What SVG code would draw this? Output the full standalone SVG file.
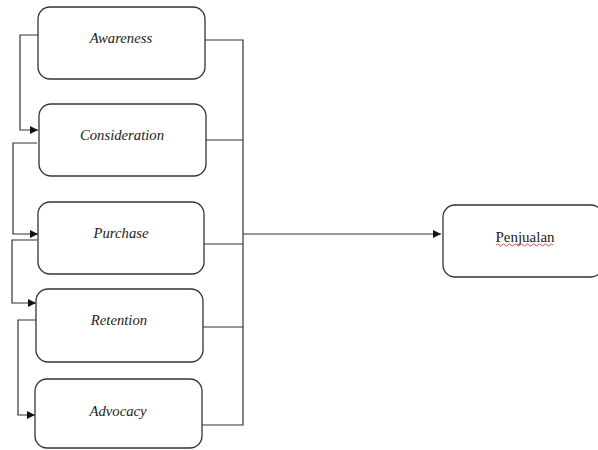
<svg xmlns="http://www.w3.org/2000/svg" width="598" height="450" viewBox="0 0 598 450">
<style>
.box{fill:#fff;stroke:#333;stroke-width:1.3}
.lbl{font-family:"Liberation Serif","Times New Roman",serif;font-style:italic;font-size:14.7px;fill:#222;text-anchor:middle}
.pen{font-family:"Liberation Serif","Times New Roman",serif;font-size:15px;fill:#222;text-anchor:middle}
.ln{fill:none;stroke:#333;stroke-width:1.2}
</style>
<defs>
<marker id="arr" markerWidth="8" markerHeight="8" refX="8" refY="4" orient="auto" markerUnits="userSpaceOnUse">
<path d="M0,0 L8,4 L0,8 z" fill="#111"/>
</marker>
</defs>
<rect width="598" height="450" fill="#fff"/>
<g id="connectors">
<path class="ln" d="M38,35 H20 V130 H38" marker-end="url(#arr)"/>
<path class="ln" d="M37,143 H13 V234 H38" marker-end="url(#arr)"/>
<path class="ln" d="M37,240 H12 V303 H36" marker-end="url(#arr)"/>
<path class="ln" d="M36,320 H18 V415 H35" marker-end="url(#arr)"/>
<path class="ln" d="M205,40 H243 V425 H202"/>
<path class="ln" d="M206,140 H243"/>
<path class="ln" d="M204,244 H243"/>
<path class="ln" d="M203,327 H243"/>
<path class="ln" d="M243,234 H441" marker-end="url(#arr)"/>
</g>
<g id="awareness">
<rect class="box" x="38" y="7" width="167" height="72" rx="12"/>
<text class="lbl" x="121" y="43">Awareness</text>
</g>
<g id="consideration">
<rect class="box" x="39" y="104" width="167" height="72" rx="12"/>
<text class="lbl" x="122" y="140">Consideration</text>
</g>
<g id="purchase">
<rect class="box" x="38" y="202" width="166" height="72" rx="12"/>
<text class="lbl" x="121" y="238">Purchase</text>
</g>
<g id="retention">
<rect class="box" x="36" y="289" width="167" height="73" rx="12"/>
<text class="lbl" x="119" y="325">Retention</text>
</g>
<g id="advocacy">
<rect class="box" x="35" y="379" width="167" height="69" rx="12"/>
<text class="lbl" x="118" y="416">Advocacy</text>
</g>
<g id="penjualan">
<rect class="box" x="443" y="205" width="160" height="72" rx="12"/>
<text class="pen" x="525" y="242">Penjualan</text>
<path d="M496,245 q1.5,-2 3,0 t3,0 t3,0 t3,0 t3,0 t3,0 t3,0 t3,0 t3,0 t3,0 t3,0 t3,0 t3,0 t3,0 t3,0 t3,0 t3,0 t3,0 t3,0" fill="none" stroke="#d22" stroke-width="0.8"/>
</g>
</svg>
